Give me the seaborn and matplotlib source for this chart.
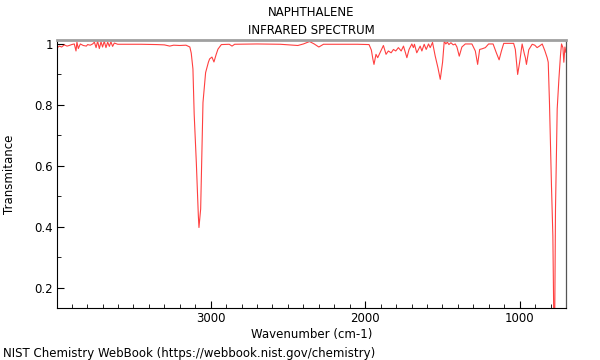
import matplotlib
matplotlib.use("Agg")
import matplotlib.pyplot as plt
import seaborn as sns
import pandas as pd
from matplotlib.ticker import MultipleLocator, FixedLocator

title_lines = ["NAPHTHALENE", "INFRARED SPECTRUM"]
x_label = "Wavenumber (cm-1)"
y_label = "Transmitance"
footer = "NIST Chemistry WebBook (https://webbook.nist.gov/chemistry)"

wavenumber = [
    4000, 3980, 3965, 3948, 3930, 3916, 3900, 3883, 3872, 3866,
    3857, 3844, 3825, 3805, 3797, 3780, 3764, 3753, 3742, 3732,
    3721, 3710, 3700, 3689, 3678, 3667, 3656, 3646, 3635, 3624,
    3602, 3550, 3450, 3350, 3300, 3265, 3240, 3200, 3160, 3135,
    3126, 3115, 3107, 3093, 3080, 3076, 3072, 3065, 3050, 3033,
    3015, 3007, 2992, 2979, 2965, 2953, 2931, 2880, 2862, 2845,
    2700, 2550, 2436, 2400, 2360, 2330, 2300, 2270, 2200, 2050,
    1975, 1960, 1950, 1943, 1930, 1919, 1904, 1882, 1865, 1850,
    1832, 1817, 1802, 1785, 1767, 1752, 1730, 1716, 1698, 1688,
    1681, 1666, 1644, 1633, 1618, 1605, 1590, 1579, 1564, 1547,
    1529, 1514, 1499, 1488, 1478, 1468, 1458, 1445, 1430, 1417,
    1406, 1391, 1374, 1352, 1309, 1287, 1272, 1259, 1244, 1222,
    1201, 1172, 1151, 1133, 1118, 1103, 1039, 1028, 1013, 1000,
    984, 969, 963, 956, 941, 919, 902, 887, 872, 854,
    837, 822, 815, 807, 794, 785, 778, 773, 768, 757,
    746, 736, 729, 720, 714, 707, 700,
]
transmittance = [
    0.985, 0.993, 0.990, 0.997, 0.993, 0.995, 0.998, 1.000, 0.977, 1.006,
    0.985, 1.000, 0.995, 0.993, 0.998, 0.996, 1.000, 1.006, 0.988, 1.009,
    0.985, 1.007, 0.990, 1.009, 0.988, 1.006, 0.992, 1.007, 0.992, 1.003,
    0.999, 0.999, 0.999, 0.998, 0.997, 0.993, 0.996, 0.995, 0.996, 0.990,
    0.970, 0.918, 0.770, 0.610, 0.436, 0.398, 0.420, 0.459, 0.808, 0.906,
    0.940, 0.951, 0.957, 0.941, 0.965, 0.983, 0.998, 0.999, 0.993, 0.999,
    1.000, 0.999, 0.995, 1.000, 1.008, 1.000, 0.990, 0.999, 0.999, 0.999,
    0.998, 0.980, 0.950, 0.933, 0.966, 0.955, 0.971, 0.995, 0.966, 0.977,
    0.971, 0.982, 0.977, 0.988, 0.977, 0.993, 0.955, 0.982, 1.000, 0.988,
    0.999, 0.971, 0.993, 0.977, 0.999, 0.982, 1.000, 0.988, 1.005, 0.961,
    0.922, 0.884, 0.940, 1.010, 1.000, 1.006, 0.998, 1.004, 0.997, 1.000,
    0.990, 0.960, 0.990, 1.000, 1.000, 0.977, 0.933, 0.982, 0.984, 0.988,
    1.000, 1.000, 0.971, 0.948, 0.977, 1.002, 1.002, 0.982, 0.900, 0.940,
    1.000, 0.966, 0.955, 0.933, 0.981, 0.999, 0.996, 0.988, 0.993, 1.000,
    0.978, 0.955, 0.940, 0.808, 0.534, 0.370, 0.050, 0.100, 0.459, 0.787,
    0.885, 0.961, 1.000, 0.988, 0.940, 0.990, 0.972,
]
x_ticks = [1000, 2000, 3000]
y_ticks = [0.2, 0.4, 0.6, 0.8, 1.0]
y_tick_labels = ["0.2", "0.4", "0.6", "0.8", "1"]

df = pd.DataFrame({"wavenumber": wavenumber, "transmittance": transmittance})

sns.set_style("white")
plt.rcParams["font.family"] = ["DejaVu Sans"]
plt.rcParams["font.size"] = 8.5
plt.rcParams["text.color"] = "black"
plt.rcParams["axes.labelcolor"] = "black"
plt.rcParams["xtick.color"] = "black"
plt.rcParams["ytick.color"] = "black"

fig = plt.figure(figsize=(6, 3.6), dpi=100)
ax = fig.add_axes([57 / 600, 1 - 308 / 360, (566 - 57) / 600, (308 - 40) / 360])

sns.lineplot(data=df, x="wavenumber", y="transmittance", ax=ax, sort=False,
             color="#ff0000", alpha=0.75, linewidth=0.8)

ax.set_xlim(3995, 700)
ax.set_ylim(0.134, 1.013)

ax.xaxis.set_major_locator(FixedLocator(x_ticks))
ax.xaxis.set_minor_locator(MultipleLocator(100))
ax.set_xticklabels([str(t) for t in x_ticks])
ax.yaxis.set_major_locator(FixedLocator(y_ticks))
ax.yaxis.set_minor_locator(MultipleLocator(0.1))
ax.set_yticklabels(y_tick_labels)

ax.tick_params(which="major", direction="in", length=5, width=0.8, colors="black",
               labelsize=8.5, pad=3, bottom=True, left=True)
ax.tick_params(which="minor", direction="in", length=3, width=0.6, colors="black",
               bottom=True, left=True)

for side in ["left", "bottom"]:
    ax.spines[side].set_color("black")
    ax.spines[side].set_linewidth(0.8)
ax.spines["right"].set_color("#555555")
ax.spines["right"].set_linewidth(0.9)
ax.spines["top"].set_color("#a0a0a0")
ax.spines["top"].set_linewidth(2.0)

ax.set_xlabel(x_label, fontsize=8.5, labelpad=2, color="black")
ax.set_ylabel("")
fig.text(10 / 600, 1 - 174 / 360, y_label, rotation=90, ha="center", va="center",
         fontsize=8.5, color="black")

fig.text(311 / 600, 1 - 13 / 360, title_lines[0], ha="center", va="center",
         fontsize=8.5, color="black")
fig.text(311 / 600, 1 - 30 / 360, title_lines[1], ha="center", va="center",
         fontsize=8.5, color="black")
fig.text(3 / 600, 1 - 353 / 360, footer, ha="left", va="center", fontsize=8.5,
         color="black")

fig.savefig("out.png", dpi=100)
